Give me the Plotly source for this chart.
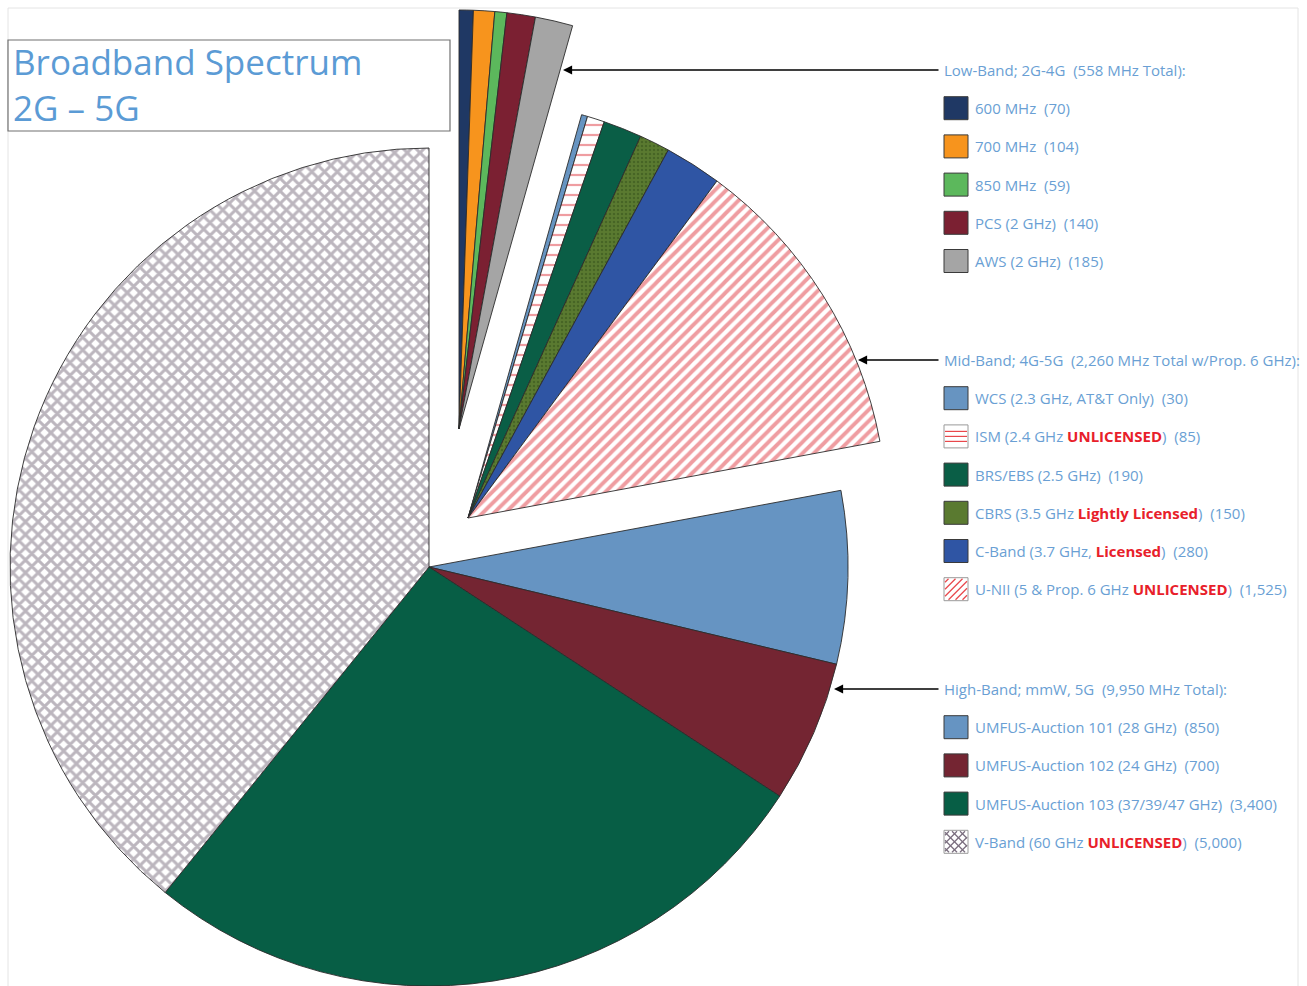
import plotly.graph_objects as go

W, H = 1307, 986

# ---------------- data ----------------
low_labels = ["600 MHz", "700 MHz", "850 MHz", "PCS (2 GHz)", "AWS (2 GHz)"]
low_values = [70, 104, 59, 140, 185]
low_colors = ["#1f3864", "#f7941d", "#5cb85c", "#7b2032", "#a5a5a5"]

mid_labels = ["WCS (2.3 GHz, AT&T Only)", "ISM (2.4 GHz UNLICENSED)", "BRS/EBS (2.5 GHz)",
              "CBRS (3.5 GHz Lightly Licensed)", "C-Band (3.7 GHz, Licensed)",
              "U-NII (5 & Prop. 6 GHz UNLICENSED)"]
mid_values = [30, 85, 190, 150, 280, 1525]
mid_colors = ["#6794c1", "#ffffff", "#0a5e46", "#5a7a30", "#2f55a4", "#ffffff"]

high_labels = ["UMFUS-Auction 101 (28 GHz)", "UMFUS-Auction 102 (24 GHz)",
               "UMFUS-Auction 103 (37/39/47 GHz)", "V-Band (60 GHz UNLICENSED)"]
high_values = [850, 700, 3400, 5000]
high_colors = ["#6694c2", "#742532", "#075e45", "#ffffff"]

RED = "#e8202a"
low_legend = ["600 MHz", "700 MHz", "850 MHz", "PCS (2 GHz)", "AWS (2 GHz)"]
mid_legend = ["WCS (2.3 GHz, AT&T Only)",
              f"ISM (2.4 GHz <span style='color:{RED}'><b>UNLICENSED</b></span>)",
              "BRS/EBS (2.5 GHz)",
              f"CBRS (3.5 GHz <span style='color:{RED}'><b>Lightly Licensed</b></span>)",
              f"C-Band (3.7 GHz, <span style='color:{RED}'><b>Licensed</b></span>)",
              f"U-NII (5 & Prop. 6 GHz <span style='color:{RED}'><b>UNLICENSED</b></span>)"]
high_legend = ["UMFUS-Auction 101 (28 GHz)", "UMFUS-Auction 102 (24 GHz)",
               "UMFUS-Auction 103 (37/39/47 GHz)",
               f"V-Band (60 GHz <span style='color:{RED}'><b>UNLICENSED</b></span>)"]

# patterns (per slice)
low_patterns = ["", "", "", "", ""]
mid_patterns = ["", "-", "", ".", "", "/"]
high_patterns = ["", "", "", "x"]

labels = low_labels + mid_labels + high_labels
values = low_values + mid_values + high_values
colors = low_colors + mid_colors + high_colors
patterns = low_patterns + mid_patterns + high_patterns
groups = ["low"] * len(low_values) + ["mid"] * len(mid_values) + ["high"] * len(high_values)

pat_fg = {"-": "#e03c44", "/": "#e03c44", "x": "#7a6e7e", ".": "#34501a", "": "#000000"}
pat_size = {"-": 10, "/": 8, "x": 9, ".": 4, "": 8}
pat_sol = {"-": 0.22, "/": 0.48, "x": 0.55, ".": 0.3, "": 0.3}

# ---------------- helpers ----------------
def px(x):
    return x / W


def py(y):
    return 1 - y / H


R = 419
centers = {"high": (429, 567), "mid": (468, 518), "low": (459, 429)}

fig = go.Figure()
TRANSP = "rgba(0,0,0,0)"
for g in ["high", "mid", "low"]:
    cx, cy = centers[g]
    inside = [gg == g for gg in groups]
    fig.add_trace(go.Pie(
        labels=labels,
        values=values,
        sort=False,
        direction="clockwise",
        rotation=0,
        textinfo="none",
        showlegend=False,
        hoverinfo="label+value",
        marker=dict(
            colors=[c if i else TRANSP for c, i in zip(colors, inside)],
            line=dict(color=["#2b2b2b" if i else TRANSP for i in inside],
                      width=[0.9 if i else 0 for i in inside]),
            pattern=dict(
                shape=[p if i else "" for p, i in zip(patterns, inside)],
                fgcolor=[pat_fg[p] for p in patterns],
                size=[pat_size[p] for p in patterns],
                solidity=[pat_sol[p] for p in patterns],
                fillmode="overlay",
            ),
        ),
        domain=dict(x=[max(0, px(cx - R)), min(1, px(cx + R))],
                    y=[max(0, py(cy + R)), min(1, py(cy - R))]),
    ))

shapes = []
annotations = []

# faint chart frame
shapes.append(dict(type="rect", xref="paper", yref="paper", x0=px(8), x1=px(1298),
                   y0=py(1000), y1=py(8), line=dict(color="#e4e4e4", width=1),
                   layer="below"))

# title box
shapes.append(dict(type="rect", xref="paper", yref="paper", x0=px(8), x1=px(450),
                   y0=py(131), y1=py(40), line=dict(color="#707070", width=1.2),
                   fillcolor="white"))
TITLE_C = "#5b9bd5"
annotations.append(dict(text="Broadband Spectrum", x=px(11), y=py(61), xref="paper",
                        yref="paper", xanchor="left", yanchor="middle", showarrow=False,
                        font=dict(family="Open Sans", size=35, color=TITLE_C)))
annotations.append(dict(text="2G \u2013 5G", x=px(11), y=py(108), xref="paper",
                        yref="paper", xanchor="left", yanchor="middle", showarrow=False,
                        font=dict(family="Open Sans", size=35, color=TITLE_C)))

# legend
LEG_C = "#6a9fd4"
FONT = dict(family="Open Sans", size=15, color=LEG_C)
NB = "\u00a0"
sections = [
    (70, 563, f"Low-Band; 2G-4G{NB}{NB}({sum(low_values):,} MHz Total):",
     low_legend, low_values, low_colors, low_patterns),
    (360, 858, f"Mid-Band; 4G-5G{NB}{NB}({sum(mid_values):,} MHz Total w/Prop. 6 GHz):",
     mid_legend, mid_values, mid_colors, mid_patterns),
    (689, 834, f"High-Band; mmW, 5G{NB}{NB}({sum(high_values):,} MHz Total):",
     high_legend, high_values, high_colors, high_patterns),
]
SX0, SX1 = 944, 968
STEP = 38.2


def diag_lines(x0, y0, x1, y1, step, kind, color, width=1):
    out = []
    if kind == "/":
        c = x0 + y0 + step / 2
        while c < x1 + y1:
            xa = max(x0, c - y1)
            xb = min(x1, c - y0)
            if xb > xa:
                out.append(dict(type="line", xref="paper", yref="paper",
                                x0=px(xa), y0=py(c - xa), x1=px(xb), y1=py(c - xb),
                                line=dict(color=color, width=width)))
            c += step
    else:  # "\\"
        c = x0 - y1 + step / 2
        while c < x1 - y0:
            xa = max(x0, c + y0)
            xb = min(x1, c + y1)
            if xb > xa:
                out.append(dict(type="line", xref="paper", yref="paper",
                                x0=px(xa), y0=py(xa - c), x1=px(xb), y1=py(xb - c),
                                line=dict(color=color, width=width)))
            c += step
    return out


for hy, arrow_x, header, items, vals, cols, pats in sections:
    annotations.append(dict(text=header, x=px(942), y=py(hy), xref="paper", yref="paper",
                            xanchor="left", yanchor="middle", showarrow=False, font=FONT))
    annotations.append(dict(text="", x=px(arrow_x), y=py(hy), xref="paper", yref="paper",
                            ax=940 - arrow_x, ay=0, axref="pixel", ayref="pixel",
                            showarrow=True, arrowhead=2, arrowsize=1.4, arrowwidth=1.3,
                            arrowcolor="black"))
    for i, (txt, v, c, p) in enumerate(zip(items, vals, cols, pats)):
        yc = hy + STEP * (i + 1)
        y0, y1 = yc - 11.5, yc + 11.5
        shapes.append(dict(type="rect", xref="paper", yref="paper", x0=px(SX0), x1=px(SX1),
                           y0=py(y1), y1=py(y0), fillcolor=c,
                           line=dict(color="#3a3a3a" if p == "" or p == "." else "#9a9a9a",
                                     width=1)))
        if p == "-":
            for dy in (-5, 0, 5):
                shapes.append(dict(type="line", xref="paper", yref="paper",
                                   x0=px(SX0 + 1), x1=px(SX1 - 1), y0=py(yc + dy), y1=py(yc + dy),
                                   line=dict(color="#e8474b", width=1.2)))
        elif p == "/":
            shapes += diag_lines(SX0 + 1, y0 + 1, SX1 - 1, y1 - 1, 7, "/", "#e8474b", 1.3)
        elif p == "x":
            shapes += diag_lines(SX0 + 1, y0 + 1, SX1 - 1, y1 - 1, 8, "/", "#7a6e7e", 1.3)
            shapes += diag_lines(SX0 + 1, y0 + 1, SX1 - 1, y1 - 1, 8, "\\", "#7a6e7e", 1.3)
        annotations.append(dict(text=f"{txt}{NB}{NB}({v:,})", x=px(973), y=py(yc),
                                xref="paper", yref="paper", xanchor="left",
                                yanchor="middle", showarrow=False, font=FONT))

fig.update_layout(
    width=W, height=H,
    margin=dict(l=0, r=0, t=0, b=0),
    paper_bgcolor="white",
    plot_bgcolor="white",
    shapes=shapes,
    annotations=annotations,
    font=dict(family="Open Sans"),
)

fig.write_html("out.html", config={"displayModeBar": False},
               post_script="document.body.style.margin='0';document.body.style.overflow='hidden';")
